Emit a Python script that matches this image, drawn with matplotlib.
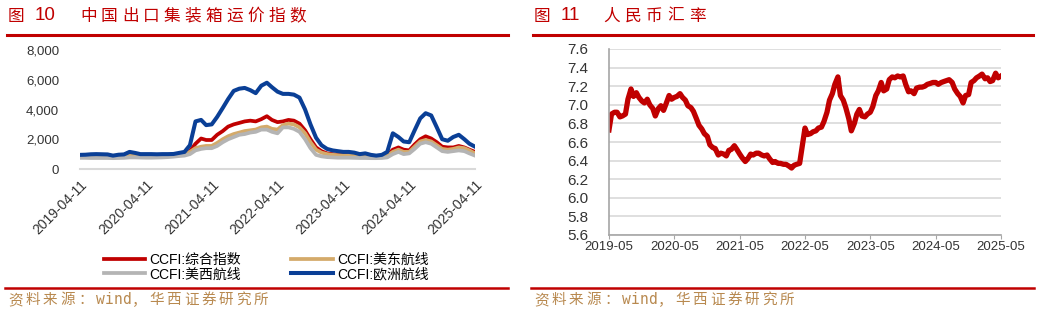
import numpy as np
import pandas as pd
import matplotlib
matplotlib.use("Agg")
import matplotlib.pyplot as plt
from matplotlib.lines import Line2D

plt.rcParams['font.family'] = ['Liberation Sans', 'Noto Sans CJK SC']
CJK = ['Noto Sans CJK SC', 'Liberation Sans']

# ---- left: CCFI monthly (2019-04-11 .. 2025-04-11)
ccfi_dates = pd.date_range("2019-04-11", periods=73, freq=pd.DateOffset(months=1))
ccfi_all = [850, 840, 830, 830, 820, 820, 800, 830, 850,
            950, 930, 880, 850, 840, 850, 880, 900, 930, 1000, 1050, 1200,
            1700, 2050, 1950, 1950, 2300, 2550, 2850, 3000, 3100, 3200, 3250, 3200,
            3350, 3550, 3300, 3150, 3200, 3300, 3250, 3050, 2600, 2000, 1450, 1200,
            1050, 1000, 950, 950, 950, 900, 880, 880, 860, 850, 860, 900,
            1300, 1450, 1300, 1250, 1650, 2000, 2200, 2050, 1800, 1500, 1450, 1450,
            1550, 1450, 1300, 1150]
ccfi_east = [850, 850, 850, 850, 840, 840, 830, 840, 850,
             900, 900, 880, 870, 860, 860, 880, 900, 920, 960, 1050, 1150,
             1400, 1500, 1550, 1550, 1750, 2000, 2200, 2350, 2450, 2550, 2600, 2650,
             2800, 2850, 2700, 2650, 2950, 3050, 3000, 2800, 2400, 1800, 1300, 1100,
             1000, 950, 930, 920, 920, 900, 890, 880, 860, 840, 850, 900,
             1150, 1300, 1150, 1150, 1500, 1850, 1950, 1850, 1600, 1350, 1300, 1350,
             1450, 1400, 1250, 1050]
ccfi_west = [750, 750, 740, 740, 740, 740, 730, 740, 750,
             780, 780, 770, 760, 760, 770, 780, 800, 830, 870, 900, 1000,
             1250, 1350, 1400, 1400, 1550, 1800, 2000, 2150, 2300, 2350, 2450, 2500,
             2650, 2650, 2500, 2400, 2800, 2800, 2700, 2500, 2000, 1400, 950, 850,
             800, 780, 760, 760, 760, 750, 740, 740, 730, 730, 740, 780,
             1000, 1150, 1000, 1050, 1350, 1700, 1800, 1700, 1450, 1200, 1150, 1200,
             1250, 1200, 1050, 900]
ccfi_europe = [950, 960, 990, 1000, 990, 980, 900, 960, 980,
               1150, 1080, 1000, 1000, 1000, 990, 1000, 1000, 1010, 1080, 1150, 1600,
               3200, 3300, 2950, 3000, 3500, 4100, 4700, 5250, 5400, 5450, 5300, 5100,
               5600, 5800, 5500, 5200, 5050, 5050, 5000, 4800, 4000, 3000, 2100, 1600,
               1350, 1250, 1200, 1150, 1150, 1100, 1000, 1050, 950, 900, 950, 1150,
               2400, 2150, 1850, 1800, 2600, 3400, 3750, 3600, 2800, 2000, 1900, 2150,
               2300, 2000, 1700, 1500]
ccfi_labels = ["CCFI:综合指数", "CCFI:美东航线", "CCFI:美西航线", "CCFI:欧洲航线"]
left_ticks = ["2019-04-11", "2020-04-11", "2021-04-11", "2022-04-11",
              "2023-04-11", "2024-04-11", "2025-04-11"]

# ---- right: USD/CNY, semi-monthly
fx_dates = pd.date_range("2019-05-01", "2025-05-01", freq="SMS")
fx = [6.73, 6.90, 6.92, 6.92, 6.87, 6.88, 6.90, 7.06, 7.17, 7.09, 7.13, 7.08,
      7.04, 7.02, 7.06, 7.00,
      6.96, 6.88, 6.96, 6.99, 6.94, 7.01, 7.10, 7.06, 7.08, 7.09, 7.12, 7.08,
      7.05, 6.99, 6.97, 6.93, 6.85, 6.78, 6.74, 6.69, 6.66, 6.57, 6.54, 6.53,
      6.46, 6.48, 6.47, 6.45, 6.51, 6.52, 6.56, 6.52, 6.47, 6.43, 6.39, 6.42,
      6.47, 6.46, 6.48, 6.48, 6.46, 6.45, 6.46, 6.42, 6.38, 6.39, 6.37, 6.37,
      6.36, 6.36, 6.34, 6.32, 6.35, 6.36, 6.37, 6.55, 6.75, 6.68, 6.69, 6.71,
      6.72, 6.75, 6.76, 6.82, 6.92, 7.05, 7.12, 7.22, 7.30, 7.10, 7.05, 6.97,
      6.85, 6.72, 6.80, 6.90, 6.95, 6.88, 6.87, 6.90, 6.92, 6.98, 7.10, 7.15,
      7.24, 7.15, 7.17, 7.27, 7.30, 7.29, 7.31, 7.30, 7.31, 7.22, 7.14, 7.15,
      7.12, 7.18, 7.19, 7.19, 7.20, 7.22, 7.23, 7.24, 7.24, 7.22, 7.24, 7.25,
      7.26, 7.27, 7.24, 7.17, 7.12, 7.09, 7.02, 7.10, 7.11, 7.24, 7.26, 7.29,
      7.31, 7.33, 7.28, 7.29, 7.25, 7.26, 7.34, 7.29, 7.31]
right_ticks = ["2019-05", "2020-05", "2021-05", "2022-05", "2023-05", "2024-05", "2025-05"]

RED = "#C00000"
GOLD = "#D4AA6A"
GRAY = "#B4B4B4"
BLUE = "#0A3F96"
SRC = "#B8894F"
SOURCE = "资料来源：wind，华西证券研究所"

fig = plt.figure(figsize=(10.4, 3.14), dpi=100)
W, H = 1040, 314


def fx_(px):
    return px / W


def fy_(py):
    return 1 - py / H


def spaced(x, y, s, size, color, full, half):
    # draw text char by char with a fixed pitch (wide CJK spacing)
    for ch in s:
        fam = ['DejaVu Sans Mono'] if ord(ch) < 128 else CJK
        fig.text(fx_(x), fy_(y), ch, color=color, fontsize=size, va="center", family=fam)
        x += half if ord(ch) < 128 else full


# headers
fig.text(fx_(8), fy_(16), "图", color=RED, fontsize=12, va="center", family=CJK)
fig.text(fx_(35), fy_(16), "10", color=RED, fontsize=13.5, va="center")
spaced(80, 16, "中国出口集装箱运价指数", 12, RED, 20.9, 9)
fig.text(fx_(534), fy_(16), "图", color=RED, fontsize=12, va="center", family=CJK)
fig.text(fx_(561), fy_(16), "11", color=RED, fontsize=13.5, va="center")
spaced(603, 16, "人民币汇率", 12, RED, 21.5, 9)
for x0, x1 in [(7, 508), (533, 1033)]:
    fig.add_artist(Line2D([fx_(x0), fx_(x1)], [fy_(34.5)] * 2, color=RED, lw=2.2))
for x0, x1 in [(5, 508), (531, 1034)]:
    fig.add_artist(Line2D([fx_(x0), fx_(x1)], [fy_(287.5)] * 2, color=RED, lw=1.8))
    spaced(x0 + 3, 300, SOURCE, 10.5, SRC, 17.5, 9)

# left chart
ax1 = fig.add_axes([fx_(80), fy_(169), fx_(395), 119 / H])
h_all, = ax1.plot(ccfi_dates, ccfi_all, color=RED, lw=2.7, label=ccfi_labels[0])
h_east, = ax1.plot(ccfi_dates, ccfi_east, color=GOLD, lw=2.7, label=ccfi_labels[1])
h_west, = ax1.plot(ccfi_dates, ccfi_west, color=GRAY, lw=2.7, label=ccfi_labels[2])
h_eu, = ax1.plot(ccfi_dates, ccfi_europe, color=BLUE, lw=2.9, label=ccfi_labels[3])
ax1.set_xlim(ccfi_dates[0], ccfi_dates[-1])
ax1.set_ylim(0, 8000)
ax1.set_yticks(np.arange(0, 8001, 2000))
ax1.set_yticklabels([f"{v:,}" for v in range(0, 8001, 2000)], fontsize=9.5, color="#333333")
ax1.set_xticks(pd.to_datetime(left_ticks))
ax1.set_xticklabels(left_ticks, rotation=45, ha="right", rotation_mode="anchor",
                    fontsize=10, color="#333333")
for s in ["top", "right", "left"]:
    ax1.spines[s].set_visible(False)
ax1.spines["bottom"].set_color("#D9D9D9")
ax1.spines["bottom"].set_linewidth(1.5)
ax1.tick_params(length=0)
ax1.tick_params(axis="y", pad=15)
ax1.tick_params(axis="x", pad=6)

fig.legend([h_all, h_west, h_east, h_eu],
           [ccfi_labels[0], ccfi_labels[2], ccfi_labels[1], ccfi_labels[3]],
           ncol=2, loc="center", bbox_to_anchor=(fx_(266), fy_(267)), frameon=False,
           fontsize=10, handlelength=3.0, handletextpad=0.3, labelspacing=0.05,
           columnspacing=3.6, borderpad=0)

# right chart
ax2 = fig.add_axes([fx_(609), fy_(235), fx_(392), 186 / H])
ax2.plot(fx_dates, fx, color=RED, lw=3.8, solid_joinstyle="round")
ax2.set_xlim(fx_dates[0], fx_dates[-1])
ax2.set_ylim(5.6, 7.6)
ax2.set_yticks(np.round(np.arange(5.6, 7.61, 0.2), 1))
ax2.set_yticklabels([f"{v:.1f}" for v in np.arange(5.6, 7.61, 0.2)], fontsize=11, color="#333333")
ax2.set_xticks(pd.to_datetime([t + "-01" for t in right_ticks]))
ax2.set_xticklabels(right_ticks, fontsize=9.5, color="#333333")
ax2.grid(axis="y", color="#D9D9D9", lw=1.2)
ax2.set_axisbelow(True)
for s in ["top", "right"]:
    ax2.spines[s].set_visible(False)
for s in ["left", "bottom"]:
    ax2.spines[s].set_color("#A6A6A6")
    ax2.spines[s].set_linewidth(1.2)
ax2.tick_params(axis="y", length=0, pad=15)
ax2.tick_params(axis="x", length=3, color="#A6A6A6", pad=1)

fig.savefig("out.png", dpi=100)
